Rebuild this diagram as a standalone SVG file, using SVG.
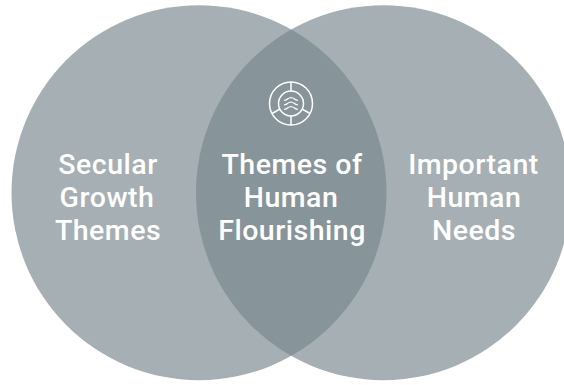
<svg xmlns="http://www.w3.org/2000/svg" width="564" height="385" viewBox="0 0 564 385">
<style>
.c{fill:#a5afb4}
.l{fill:#87949a}
.t{font-family:Roboto,"Liberation Sans",sans-serif;font-size:28.500px;font-weight:500;fill:#fff;text-anchor:middle;letter-spacing:.5px}
.i{fill:none;stroke:#fff;stroke-width:1.5}
</style>
<defs><clipPath id="cp"><circle cx="199" cy="192.700" r="187.500"/></clipPath></defs>
<rect width="564" height="385" fill="#fff"/>
<g id="left"><circle class="c" cx="199" cy="192.700" r="187.500"/><text class="t" x="108" y="174">Secular</text><text class="t" x="107" y="207">Growth</text><text class="t" x="108" y="240">Themes</text></g>
<g id="right"><circle class="c" cx="383.500" cy="192.700" r="187.500"/><text class="t" x="473.500" y="174">Important</text><text class="t" x="474" y="207">Human</text><text class="t" x="474" y="240">Needs</text></g>
<g id="center"><circle class="l" cx="383.500" cy="192.700" r="187.500" clip-path="url(#cp)"/><text class="t" x="292" y="174">Themes of</text><text class="t" x="291" y="207">Human</text><text class="t" x="292" y="240">Flourishing</text>
<g id="icon" class="i"><circle cx="291" cy="103.500" r="21.500"/><circle cx="291" cy="103.500" r="12.500"/>
<path d="M291 82v9M291 116v9M272 113.500l8-4.500M302 109l8 4.500"/>
<path d="M284 100.500q2.500-.5 3.500-1.500t3.500-1.500q2.500.5 3.500 1.500t3.500 1.500M284 105q2.500-.5 3.500-1.500t3.500-1.500q2.500.5 3.500 1.500t3.500 1.500M284 109.500q2.500-.5 3.500-1.500t3.500-1.500q2.500.5 3.500 1.500t3.500 1.500" stroke-width="1.200"/></g></g>
</svg>
